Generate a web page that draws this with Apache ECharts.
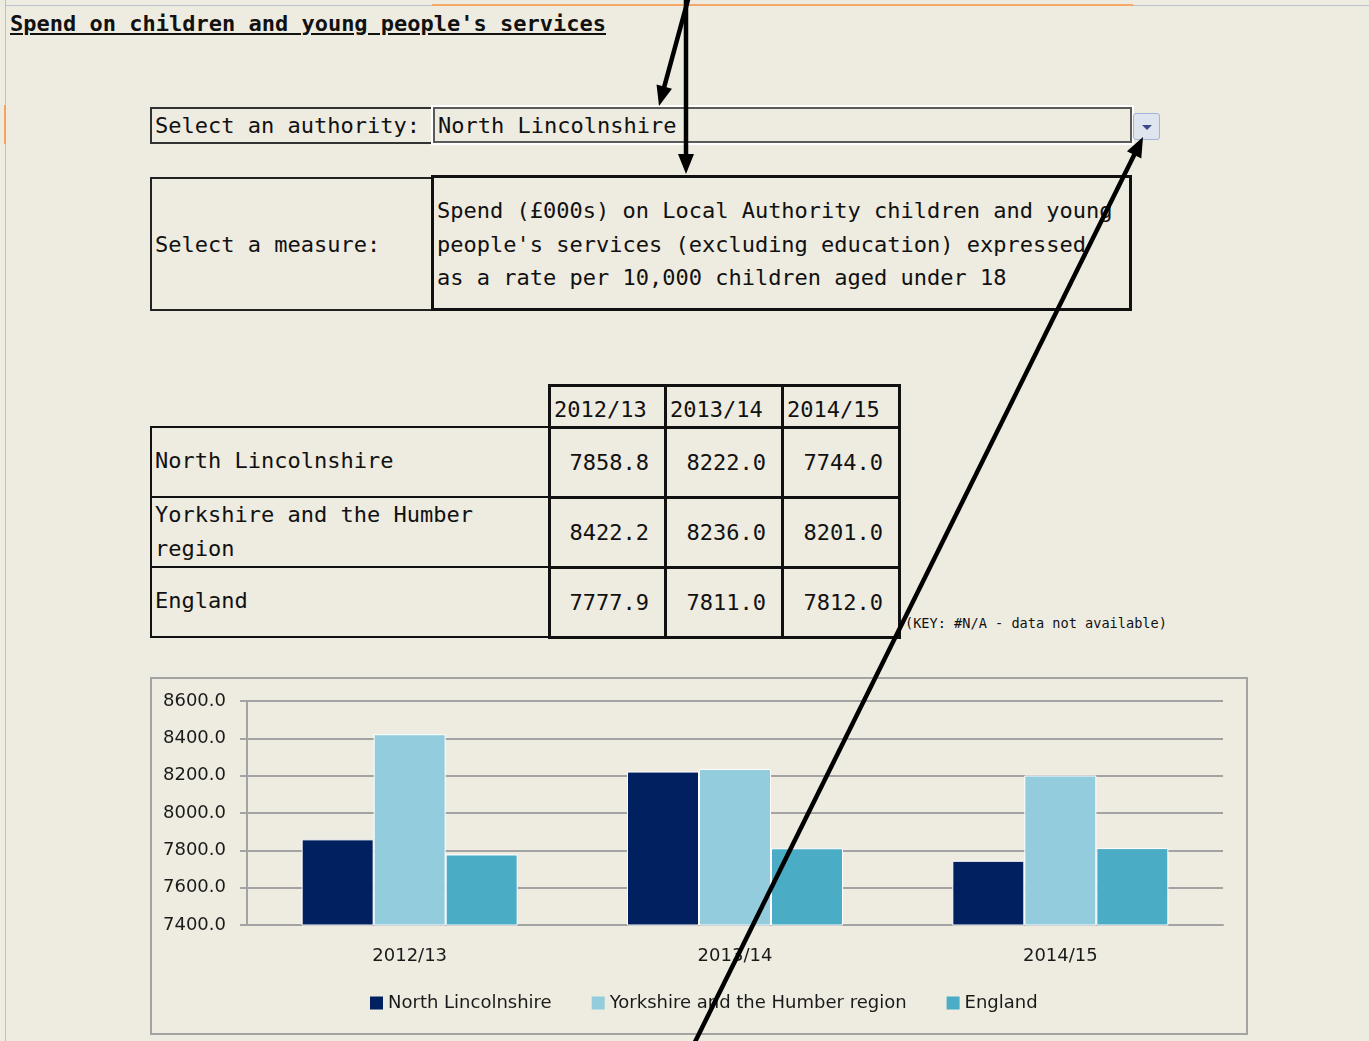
<!DOCTYPE html>
<html>
<head>
<meta charset="utf-8">
<script src="https://cdn.jsdelivr.net/npm/echarts@6/dist/echarts.min.js"></script>
<style>
    html, body { margin: 0; padding: 0; }
    body {
        width: 1369px; height: 1041px; position: relative; overflow: hidden;
        background: #eeebe0; color: #111;
        font-family: 'DejaVu Sans Mono', monospace; font-size: 22px;
    }
    .abs { position: absolute; box-sizing: border-box; white-space: nowrap; }
    #chart { position: absolute; left: 150px; top: 677px; width: 1098px; height: 358px;
             box-sizing: border-box; border: 2px solid #a3a3a3; }
    #arrows { position: absolute; left: 0; top: 0; pointer-events: none; }
</style>
</head>
<body>
<!-- sheet edges -->
<div class="abs" style="left:5px;top:0;width:1px;height:1041px;background:#b8c2d2"></div>
<div class="abs" style="left:4px;top:105px;width:2px;height:39px;background:#f4a460"></div>
<div class="abs" style="left:5px;top:5px;width:1364px;height:1px;background:#b8c2d2"></div>
<div class="abs" style="left:432px;top:4px;width:701px;height:2px;background:#f6a868"></div>

<div class="abs" style="left:10px;top:9px;font-size:22px;font-weight:bold;text-decoration:underline;line-height:30px">Spend on children and young people's services</div>

<!-- authority selector -->
<div class="abs" style="left:150px;top:107px;width:284px;height:37px;border:2px solid #333;padding-left:3px;line-height:34px">Select an authority:</div>
<div class="abs" style="left:431px;top:105px;width:703px;height:40px;border:2px solid #fff">
    <div class="abs" style="left:0;top:0;width:699px;height:36px;border:2px solid #5a5a5a;padding-left:3px;line-height:33px" id="authority"></div>
</div>
<div class="abs" style="left:1133px;top:113px;width:27px;height:27px;border:1px solid #9fb4d8;border-radius:3px;background:#dfe5ee">
    <div class="abs" style="left:8px;top:11px;width:0;height:0;border-left:5px solid transparent;border-right:5px solid transparent;border-top:5px solid #3a4a8a"></div>
</div>

<!-- measure selector -->
<div class="abs" style="left:150px;top:177px;width:284px;height:134px;border:2px solid #222;padding-left:3px;line-height:132px">Select a measure:</div>
<div class="abs" style="left:431px;top:175px;width:701px;height:136px;border:3px solid #111"></div>
<div class="abs" style="left:437px;top:194px;line-height:33.5px">Spend (£000s) on Local Authority children and young<br>people's services (excluding education) expressed<br>as a rate per 10,000 children aged under 18</div>

<div id="table"></div>
<div class="abs" style="left:905px;top:613px;font-size:13.6px;line-height:20px">(KEY: #N/A - data not available)</div>

<div id="chart"></div>
<svg id="arrows" width="1369" height="1041"></svg>

<script>
    // 数据
    let years = ['2012/13', '2013/14', '2014/15'];
    let areas = ['North Lincolnshire', 'Yorkshire and the Humber region', 'England'];
    let north_lincs = [7858.8, 8222.0, 7744.0];
    let yorkshire = [8422.2, 8236.0, 8201.0];
    let england = [7777.9, 7811.0, 7812.0];
    let colors = ['#00205f', '#93cddd', '#4bacc6'];

    document.getElementById('authority').textContent = areas[0];

    // 表格
    function cell(x, y, w, h, bw, html, style) {
        let d = document.createElement('div');
        d.className = 'abs';
        d.style.cssText = 'left:' + x + 'px;top:' + y + 'px;width:' + w + 'px;height:' + h + 'px;border:' + bw + 'px solid #111;' + (style || '');
        d.innerHTML = html;
        document.getElementById('table').appendChild(d);
    }
    let colX = [548, 664, 781, 898];
    let rowY = [426, 496, 566, 636];
    let rows = [north_lincs, yorkshire, england];
    let rowLabels = ['North Lincolnshire', 'Yorkshire and the Humber<br>region', 'England'];
    for (let c = 0; c < 3; c++) {
        cell(colX[c], 384, colX[c + 1] - colX[c] + 3, 45, 3, years[c], 'padding-left:3px;line-height:45px');
    }
    for (let r = 0; r < 3; r++) {
        let lh = r === 1 ? 34 : 66;
        cell(150, rowY[r], 400, 72, 2, rowLabels[r], 'padding-left:3px;line-height:' + lh + 'px');
        for (let c = 0; c < 3; c++) {
            cell(colX[c], rowY[r], colX[c + 1] - colX[c] + 3, 73, 3, rows[r][c].toFixed(1), 'text-align:right;padding-right:15px;line-height:67px');
        }
    }

    // 柱状图
    let myChart = echarts.init(document.getElementById('chart'));
    let axisColor = '#a3a3a3';
    let option = {
        animation: false,
        color: colors,
        textStyle: {fontFamily: 'DejaVu Sans'},
        grid: {left: 95, right: 23, top: 22, bottom: 108},
        legend: {
            left: 213,
            top: 310,
            icon: 'rect',
            itemWidth: 13,
            itemHeight: 13,
            itemGap: 40,
            itemStyle: {borderWidth: 0},
            textStyle: {fontSize: 18, color: '#1a1a1a'},
            data: areas
        },
        xAxis: {
            type: 'category',
            data: years,
            axisLine: {lineStyle: {color: axisColor, width: 2}},
            axisTick: {length: 7, lineStyle: {color: axisColor, width: 2}},
            axisLabel: {fontSize: 18, color: '#1a1a1a', margin: 22}
        },
        yAxis: {
            type: 'value',
            min: 7400,
            max: 8600,
            interval: 200,
            axisLine: {show: true, lineStyle: {color: axisColor, width: 2}},
            axisTick: {show: true, length: 7, lineStyle: {color: axisColor, width: 2}},
            splitLine: {lineStyle: {color: axisColor, width: 2}},
            axisLabel: {fontSize: 18, color: '#1a1a1a', margin: 21, formatter: function (v) { return v.toFixed(1); }}
        },
        series: [
            {name: areas[0], type: 'bar', data: north_lincs},
            {name: areas[1], type: 'bar', data: yorkshire},
            {name: areas[2], type: 'bar', data: england}
        ].map(function (s) {
            s.barGap = '0%';
            s.barCategoryGap = '33.6%';
            s.itemStyle = {borderColor: '#ffffff', borderWidth: 1};
            return s;
        })
    };
    myChart.setOption(option);

    // 箭头
    let svg = document.getElementById('arrows');
    function arrow(x1, y1, x2, y2) {
        let dx = x2 - x1, dy = y2 - y1, len = Math.sqrt(dx * dx + dy * dy);
        let ux = dx / len, uy = dy / len, hl = 20, hw = 8;
        let bx = x2 - ux * hl, by = y2 - uy * hl;
        let ns = 'http://www.w3.org/2000/svg';
        let line = document.createElementNS(ns, 'line');
        line.setAttribute('x1', x1); line.setAttribute('y1', y1);
        line.setAttribute('x2', bx + ux * 2); line.setAttribute('y2', by + uy * 2);
        line.setAttribute('stroke', '#000'); line.setAttribute('stroke-width', 4.5);
        svg.appendChild(line);
        let head = document.createElementNS(ns, 'polygon');
        head.setAttribute('points', x2 + ',' + y2 + ' ' + (bx - uy * hw) + ',' + (by + ux * hw) + ' ' + (bx + uy * hw) + ',' + (by - ux * hw));
        head.setAttribute('fill', '#000');
        svg.appendChild(head);
    }
    arrow(689, -4, 659, 106);
    arrow(686, -4, 686, 174);
    arrow(692, 1048, 1143, 137);
</script>
</body>
</html>
